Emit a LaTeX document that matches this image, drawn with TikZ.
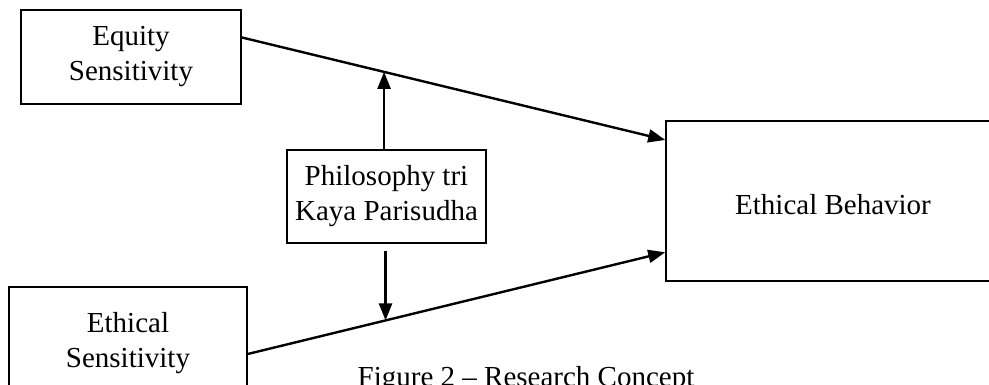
\documentclass[tikz,border=0pt]{standalone}
\usepackage{fontspec}
\setmainfont{Liberation Serif}
\usetikzlibrary{arrows.meta}
\tikzset{
  conceptbox/.style={draw, line width=1.6pt, inner sep=0pt, align=center, font=\fontsize{29}{35}\selectfont},
  linkarrow/.style={line width=2.4pt, -{Triangle[length=17pt,width=13pt]}}
}
\begin{document}
\begin{tikzpicture}[x=1pt,y=-1pt]
  \path[use as bounding box, clip] (0,0) rectangle (989,385);
  \node[conceptbox, minimum width=220pt, minimum height=94pt] (equity) at (131,57) {Equity\\Sensitivity};
  \node[conceptbox, minimum width=238pt, minimum height=113pt] (ethsens) at (128,343.5) {Ethical\\Sensitivity};
  \node[conceptbox, minimum width=199pt, minimum height=93pt] (phil) at (386.5,196.5) {Philosophy tri\\Kaya Parisudha};
  \node[conceptbox, minimum width=334pt, minimum height=160pt, text height=27pt, text depth=0pt] (behav) at (833,201) {Ethical Behavior};
  % Direct effects
  \draw[linkarrow] (equity.10) -- (behav.160) coordinate[pos=0.336] (up);
  \draw[linkarrow] (ethsens.-5) -- (behav.197) coordinate[pos=0.33] (down);
  % Moderating effects
  \draw[linkarrow] (up |- phil.north) -- (up);
  \draw[linkarrow] ([yshift=-7pt]down |- phil.south) -- (down);
  \node[anchor=base, font=\fontsize{29}{35}\selectfont] (caption) at (526,386) {Figure 2 -- Research Concept};
\end{tikzpicture}
\end{document}
